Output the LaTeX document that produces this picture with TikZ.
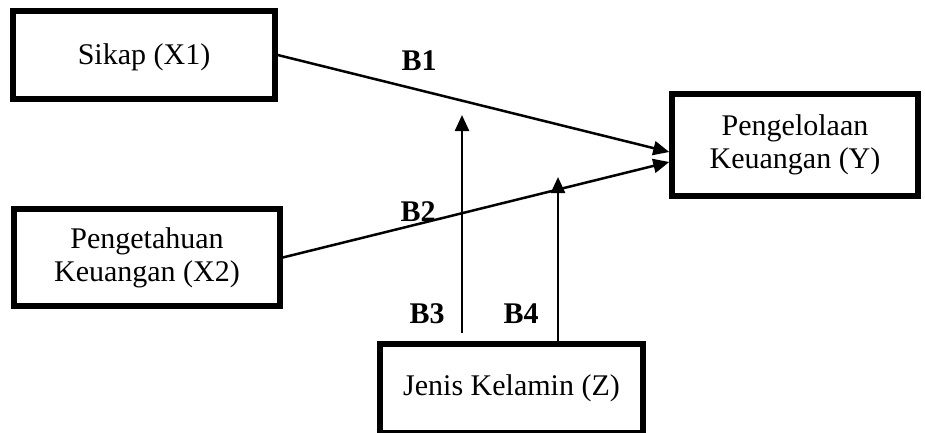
\documentclass[tikz,border=0pt]{standalone}
\usepackage{fontspec}
\setmainfont{Liberation Serif}
\usetikzlibrary{positioning, arrows.meta, calc}

\begin{document}
\begin{tikzpicture}[x=1pt, y=-1pt,
	box/.style={draw=black, line width=5.5pt, fill=white, align=center, inner sep=0pt, font=\fontsize{30}{33}\selectfont},
	link/.style={draw=black, line width=2.5pt, -{Triangle[length=16pt, width=14pt]}},
	coef/.style={font=\fontsize{30}{33}\selectfont\bfseries}]
	\useasboundingbox (0,0) rectangle (925,432);
	\node (sikap) at (144,55) [box, minimum width=262pt, minimum height=88pt, text depth=2pt] {Sikap (X1)};
	\node (pengetahuan) at (147,257.5) [box, minimum width=266pt, minimum height=97pt] {Pengetahuan\\Keuangan (X2)};
	\node (pengelolaan) at (795,145) [box, minimum width=246pt, minimum height=102pt] {Pengelolaan\\Keuangan (Y)};
	\node (gender) at (511.5,388.5) [box, minimum width=263pt, minimum height=89pt] {Jenis Kelamin (Z)};
	\coordinate (b3top) at (462,115);
	\coordinate (b3foot) at (462,333);
	\coordinate (b4top) at (558,177);
	\draw[link] (sikap.east) -- ($(pengelolaan.west)+(0,7)$);
	\draw[link] (pengetahuan.east) -- ($(pengelolaan.west)+(0,17)$);
	\draw[link] (b3foot) -- (b3top);
	\draw[link] (gender.north -| b4top) -- (b4top);
	\node (b1) at (419,61) [coef] {B1};
	\node (b2) at (418,212) [coef] {B2};
	\node (b3) at (427,314) [coef] {B3};
	\node (b4) at (521,314) [coef] {B4};
\end{tikzpicture}
\end{document}
